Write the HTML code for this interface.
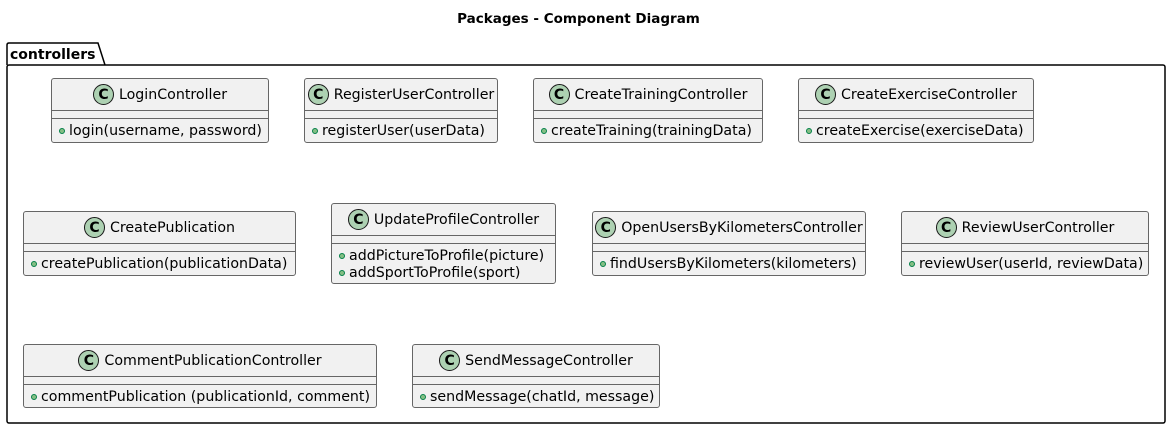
<!DOCTYPE html>
<html><head><meta charset="utf-8"><style>
body{margin:0;width:1170px;height:429px;background:#fff;position:relative;overflow:hidden;font-family:"DejaVu Sans","Liberation Sans",sans-serif;}
.t{position:absolute;left:0;width:1157px;top:11px;text-align:center;font-weight:bold;font-size:13.5px;}
.c{position:absolute;background:#f1f1f1;border:1px solid #666;border-radius:3px;box-sizing:border-box;font-size:14.2px;color:#000;}
.h{height:31px;display:flex;align-items:center;justify-content:center;border-bottom:1px solid #666;white-space:nowrap;}
.i{width:21px;height:21px;border-radius:50%;background:#add1b2;border:1px solid #181818;box-sizing:border-box;display:flex;align-items:center;justify-content:center;font-weight:bold;font-size:14px;margin-right:5px;flex:none;}
.s{height:7px;border-bottom:1px solid #666;}
.m{padding:4px 0 0 7px;white-space:nowrap;line-height:17px;}
.m span{display:inline-block;width:6px;height:6px;border-radius:50%;background:#84be84;border:1px solid #038048;box-sizing:border-box;margin-right:4px;vertical-align:1px;}
</style></head><body>
<div class="t">Packages - Component Diagram</div>
<svg style="position:absolute;left:0;top:0" width="1170" height="429">
<path d="M7,65 L7,45 Q7,43 9,43 L98,43 L105,65" fill="none" stroke="#000" stroke-width="1.5"/>
<rect x="7" y="65" width="1158" height="358" rx="2" fill="none" stroke="#000" stroke-width="1.5"/>
<text x="10" y="59" font-family="DejaVu Sans, sans-serif" font-weight="bold" font-size="14">controllers</text>
</svg>

<div class="c" style="left:51px;top:78px;width:218px;height:65px"><div class="h"><div class="i">C</div>LoginController</div><div class="s"></div><div class="m"><span></span>login(username, password)</div></div>
<div class="c" style="left:304px;top:78px;width:194px;height:65px"><div class="h"><div class="i">C</div>RegisterUserController</div><div class="s"></div><div class="m"><span></span>registerUser(userData)</div></div>
<div class="c" style="left:533px;top:78px;width:230px;height:65px"><div class="h"><div class="i">C</div>CreateTrainingController</div><div class="s"></div><div class="m"><span></span>createTraining(trainingData)</div></div>
<div class="c" style="left:798px;top:78px;width:236px;height:65px"><div class="h"><div class="i">C</div>CreateExerciseController</div><div class="s"></div><div class="m"><span></span>createExercise(exerciseData)</div></div>

<div class="c" style="left:23px;top:211px;width:273px;height:65px"><div class="h"><div class="i">C</div>CreatePublication</div><div class="s"></div><div class="m"><span></span>createPublication(publicationData)</div></div>
<div class="c" style="left:331px;top:203px;width:225px;height:81px"><div class="h"><div class="i">C</div>UpdateProfileController</div><div class="s"></div><div class="m"><span></span>addPictureToProfile(picture)<br><span></span>addSportToProfile(sport)</div></div>
<div class="c" style="left:592px;top:211px;width:274px;height:65px"><div class="h"><div class="i">C</div>OpenUsersByKilometersController</div><div class="s"></div><div class="m"><span></span>findUsersByKilometers(kilometers)</div></div>
<div class="c" style="left:901px;top:211px;width:248px;height:65px"><div class="h"><div class="i">C</div>ReviewUserController</div><div class="s"></div><div class="m"><span></span>reviewUser(userId, reviewData)</div></div>

<div class="c" style="left:23px;top:344px;width:354px;height:64px"><div class="h"><div class="i">C</div>CommentPublicationController</div><div class="s"></div><div class="m"><span></span>commentPublication (publicationId, comment)</div></div>
<div class="c" style="left:412px;top:344px;width:248px;height:64px"><div class="h"><div class="i">C</div>SendMessageController</div><div class="s"></div><div class="m"><span></span>sendMessage(chatId, message)</div></div>
</body></html>
